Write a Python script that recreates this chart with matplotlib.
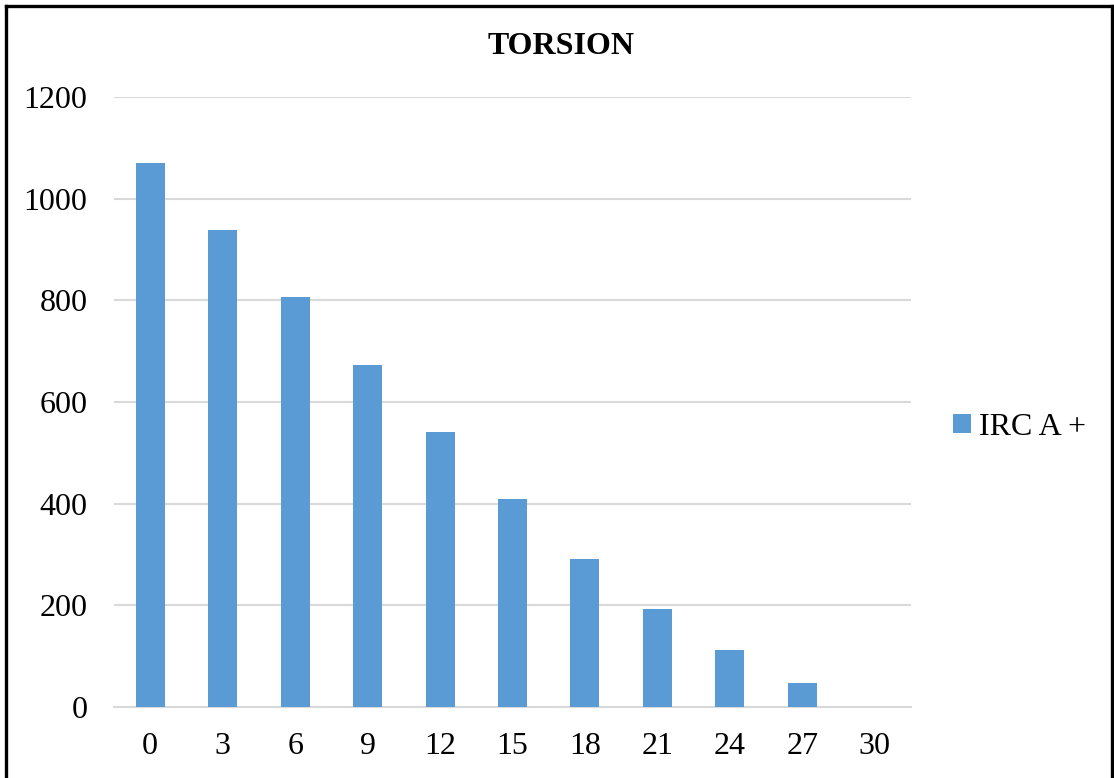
import matplotlib
matplotlib.use("Agg")
import matplotlib.pyplot as plt
from matplotlib.patches import Patch
from matplotlib.lines import Line2D

categories = ["0", "3", "6", "9", "12", "15", "18", "21", "24", "27", "30"]
values = [1070, 938, 807, 673, 541, 409, 291, 193, 112, 47, 0]
series_name = "IRC A +"
title = "TORSION"
yticks = [0, 200, 400, 600, 800, 1000, 1200]

W, H = 1114, 778
fig = plt.figure(figsize=(W / 100, H / 100), dpi=100)
plt.rcParams["font.family"] = ["Liberation Serif", "DejaVu Serif"]

ax = fig.add_axes([114 / W, 1 - 707 / H, (911 - 114) / W, (707 - 97) / H])
x = list(range(len(categories)))
ax.bar(x, values, width=0.4, color="#5B9BD5", zorder=3)
ax.set_xlim(-0.5, len(categories) - 0.5)
ax.set_ylim(0, 1200)
ax.set_yticks(yticks)
ax.set_yticklabels([str(v) for v in yticks])
ax.set_xticks(x)
ax.set_xticklabels(categories)
ax.grid(axis="y", color="#D9D9D9", linewidth=1.5, zorder=0)
for s in ["top", "right", "left"]:
    ax.spines[s].set_visible(False)
ax.spines["bottom"].set_color("#D9D9D9")
ax.spines["bottom"].set_linewidth(1.5)
ax.tick_params(axis="both", length=0, labelsize=23, colors="black")
ax.tick_params(axis="y", pad=19)
ax.tick_params(axis="x", pad=18)

fig.text(561 / W, 1 - 47 / H, title, ha="center", va="center", fontsize=23, fontweight="bold")

handle = Patch(facecolor="#5B9BD5", edgecolor="none")
fig.legend([handle], [series_name], loc="center left", bbox_to_anchor=(953 / W, 1 - 427 / H),
           frameon=False, fontsize=23, handlelength=0.55, handleheight=0.55, handletextpad=0.25,
           borderpad=0, borderaxespad=0)

# outer frame
for (x0, y0, x1, y1) in [(6, 6, 1112, 6), (6, 6, 6, 790), (1112, 6, 1112, 790)]:
    fig.add_artist(Line2D([x0 / W, x1 / W], [1 - y0 / H, 1 - y1 / H], color="black", linewidth=2.4,
                          transform=fig.transFigure))

fig.savefig("out.png", dpi=100)
